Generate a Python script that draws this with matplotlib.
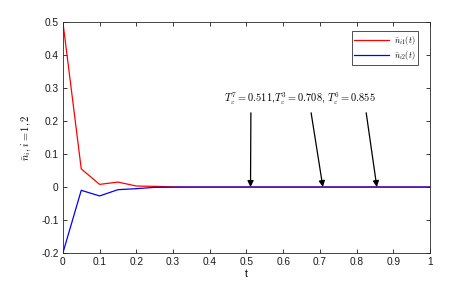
import numpy as np
import matplotlib
matplotlib.use('Agg')
import matplotlib.pyplot as plt

plt.rcParams['font.family'] = ['Liberation Sans', 'DejaVu Sans']
plt.rcParams['mathtext.fontset'] = 'cm'

t = np.arange(0, 1.0001, 0.05)
n_i1 = [0.5, 0.055, 0.008, 0.015, 0.003, 0.002, 0.0005, 0.0, 0.0, 0.0, 0.0,
        0.0, 0.0, 0.0, 0.0, 0.0, 0.0, 0.0, 0.0, 0.0, 0.0]
n_i2 = [-0.2, -0.01, -0.027, -0.008, -0.005, -0.001, -0.0005, 0.0, 0.0, 0.0, 0.0,
        0.0, 0.0, 0.0, 0.0, 0.0, 0.0, 0.0, 0.0, 0.0, 0.0]
t_eps = [0.511, 0.708, 0.855]
arrow_starts = [0.512, 0.676, 0.826]

fig = plt.figure(figsize=(4.59, 2.83), dpi=100)
ax = fig.add_axes([0.137, 0.106, 0.8, 0.816])

ax.plot(t, n_i1, color='red', lw=0.9, label=r'$\bar{n}_{i1}(t)$')
ax.plot(t, n_i2, color='blue', lw=0.9, label=r'$\bar{n}_{i2}(t)$')

ax.text(0.646, 0.242,
        r'$T_\varepsilon^7=0.511$,$T_\varepsilon^3=0.708$, $T_\varepsilon^6=0.855$',
        ha='center', va='bottom', fontsize=7.5)
for xs, xe in zip(arrow_starts, t_eps):
    ax.annotate('', xy=(xe, 0.0), xytext=(xs, 0.225),
                arrowprops=dict(arrowstyle='-|>', color='black', lw=0.9,
                                mutation_scale=9, shrinkA=0, shrinkB=0))

ax.set_xlim(0, 1)
ax.set_ylim(-0.2, 0.5)
ax.set_xticks(np.arange(0, 1.01, 0.1))
ax.set_xticklabels(['0', '0.1', '0.2', '0.3', '0.4', '0.5', '0.6', '0.7', '0.8', '0.9', '1'])
ax.set_yticks(np.arange(-0.2, 0.51, 0.1))
ax.set_yticklabels(['-0.2', '-0.1', '0', '0.1', '0.2', '0.3', '0.4', '0.5'])
ax.tick_params(direction='in', top=True, right=True, length=3, width=0.6,
               labelsize=7.3, colors='#1a1a1a', pad=3)
for s in ax.spines.values():
    s.set_color('#262626')
    s.set_linewidth(0.6)

ax.set_xlabel('t', fontsize=7.5, labelpad=1)
ax.set_ylabel(r'$\bar{n}_i, i=1,2$', fontsize=7.5, labelpad=6)

leg = ax.legend(loc='upper right', bbox_to_anchor=(0.967, 0.961),
                fontsize=6, frameon=True, fancybox=False,
                edgecolor='black', borderpad=0.35, labelspacing=0.25,
                handlelength=4.2, handletextpad=0.5, borderaxespad=0)
leg.get_frame().set_linewidth(0.6)

fig.savefig('out.png', dpi=100)
